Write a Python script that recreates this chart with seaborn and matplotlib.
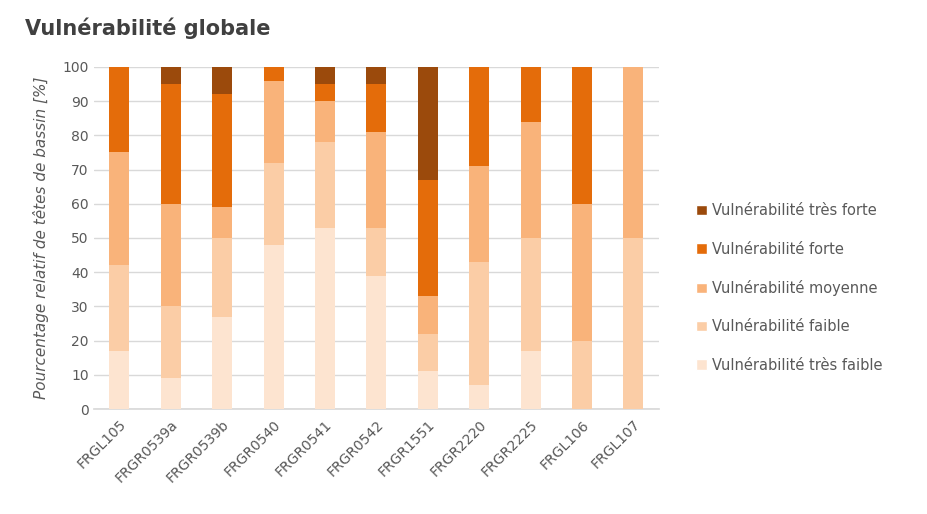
import numpy as np
import pandas as pd
import matplotlib
matplotlib.use("Agg")
import matplotlib.pyplot as plt
import seaborn as sns
from matplotlib.patches import Patch

categories = ["FRGL105", "FRGR0539a", "FRGR0539b", "FRGR0540", "FRGR0541", "FRGR0542",
              "FRGR1551", "FRGR2220", "FRGR2225", "FRGL106", "FRGL107"]
tres_faible = [17, 9, 27, 48, 53, 39, 11, 7, 17, 0, 0]
faible      = [25, 21, 23, 24, 25, 14, 11, 36, 33, 20, 50]
moyenne     = [33, 30, 9, 24, 12, 28, 11, 28, 34, 40, 50]
forte       = [25, 35, 33, 4, 5, 14, 34, 29, 16, 40, 0]
tres_forte  = [0, 5, 8, 0, 5, 5, 33, 0, 0, 0, 0]

series_names = ["Vulnérabilité très faible", "Vulnérabilité faible", "Vulnérabilité moyenne",
                "Vulnérabilité forte", "Vulnérabilité très forte"]
colors = ["#fde4d0", "#fbcda6", "#f9b37a", "#e46c0a", "#9b4a0c"]

sns.set_theme(style="white")
plt.rcParams['font.family'] = ['DejaVu Sans']

fig = plt.figure(figsize=(9.27, 5.14), dpi=100)
ax = fig.add_axes([0.101, 0.204, 0.610, 0.666])

series = [tres_faible, faible, moyenne, forte, tres_forte]
cum = np.cumsum(np.array(series, dtype=float), axis=0)
df = pd.DataFrame({"cat": categories})
# draw from top layer down so lower layers overlay
for i in range(len(series) - 1, -1, -1):
    df["val"] = cum[i]
    sns.barplot(data=df, x="cat", y="val", color=colors[i], width=0.39,
                saturation=1, ax=ax, zorder=3, linewidth=0)

ax.set_ylim(0, 100)
ax.set_xlim(-0.5, len(categories) - 0.5)
ax.set_yticks(range(0, 101, 10))
ax.yaxis.grid(True, color="#d9d9d9", linewidth=1, zorder=0)
ax.set_axisbelow(True)
for s in ["top", "right", "left"]:
    ax.spines[s].set_visible(False)
ax.spines["bottom"].set_color("#d9d9d9")
ax.tick_params(axis="both", length=0, colors="#595959", labelsize=10)
ax.tick_params(axis="x", pad=6)
ax.set_xlabel("")
ax.set_ylabel("Pourcentage relatif de têtes de bassin [%]", color="#595959",
              fontsize=11, style="italic", labelpad=10)
plt.setp(ax.get_xticklabels(), rotation=45, ha="right", rotation_mode="anchor")

handles = [Patch(facecolor=colors[i], label=series_names[i]) for i in range(len(series) - 1, -1, -1)]
leg = fig.legend(handles=handles, loc="center left", bbox_to_anchor=(0.737, 0.44),
                 frameon=False, fontsize=10.5, handlelength=0.7, handleheight=0.7,
                 handletextpad=0.35, labelspacing=1.6, labelcolor="#595959")

fig.text(0.027, 0.945, "Vulnérabilité globale", fontsize=15, fontweight="bold",
         color="#404040", ha="left", va="center")

fig.savefig("out.png", dpi=100)
